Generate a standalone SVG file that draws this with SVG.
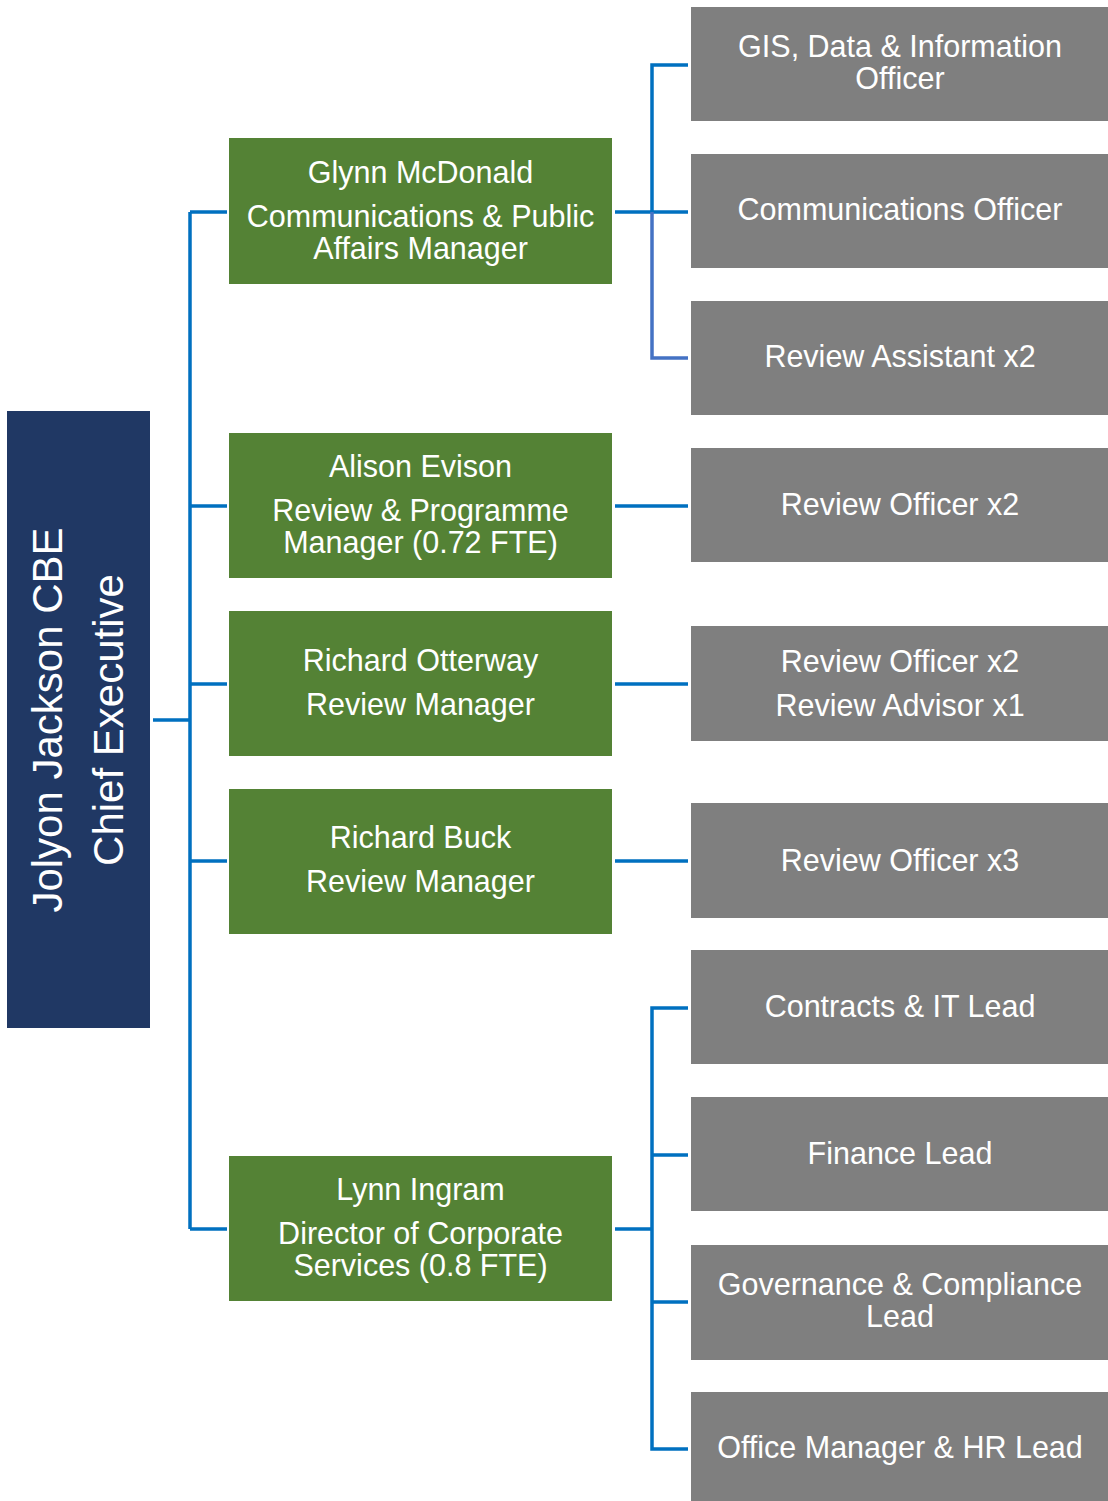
<svg xmlns="http://www.w3.org/2000/svg" width="1108" height="1501" viewBox="0 0 1108 1501">
  <style>
    .ceo { fill: #203864; }
    .mgr { fill: #548235; }
    .role { fill: #7f7f7f; }
    .lbl { font-family: "Liberation Sans", Arial, sans-serif; font-size: 30.5px; fill: #ffffff; text-anchor: middle; }
    .ceo-lbl { font-family: "Liberation Sans", Arial, sans-serif; font-size: 42px; fill: #ffffff; text-anchor: middle; }
    .wire { fill: none; stroke: #0070c0; stroke-width: 3.5; }
    .wire-alt { fill: none; stroke: #4472c4; stroke-width: 3.5; }
  </style>
  <rect width="1108" height="1501" fill="#ffffff"/>

  <!-- connectors -->
  <g id="connectors">
    <!-- chief executive trunk -->
    <path class="wire" d="M153 720 H190 M190 212 V1229 M190 212 H227 M190 506 H227 M190 684 H227 M190 861 H227 M190 1229 H227"/>
    <!-- communications team bracket -->
    <path class="wire" d="M615 212 H688 M688 65 H652 V212"/>
    <path class="wire-alt" d="M652 212 V358 H688"/>
    <!-- single reports -->
    <path class="wire" d="M615 506 H688 M615 684 H688 M615 861 H688"/>
    <!-- corporate services bracket -->
    <path class="wire" d="M615 1229 H652 M688 1008 H652 V1449 H688 M652 1155 H688 M652 1302 H688"/>
  </g>

  <!-- chief executive -->
  <g id="ceo">
    <rect class="ceo" x="7" y="411" width="143" height="617"/>
    <text class="ceo-lbl" transform="translate(47,720) rotate(-90)" y="15">Jolyon Jackson CBE</text>
    <text class="ceo-lbl" transform="translate(108,720) rotate(-90)" y="15">Chief Executive</text>
  </g>

  <!-- managers -->
  <g id="glynn-mcdonald">
    <rect class="mgr" x="229" y="138" width="383" height="146"/>
    <text class="lbl" x="420.5" y="183">Glynn McDonald</text>
    <text class="lbl" x="420.5" y="227">Communications &amp; Public</text>
    <text class="lbl" x="420.5" y="259">Affairs Manager</text>
  </g>
  <g id="alison-evison">
    <rect class="mgr" x="229" y="433" width="383" height="145"/>
    <text class="lbl" x="420.5" y="477">Alison Evison</text>
    <text class="lbl" x="420.5" y="521">Review &amp; Programme</text>
    <text class="lbl" x="420.5" y="553">Manager (0.72 FTE)</text>
  </g>
  <g id="richard-otterway">
    <rect class="mgr" x="229" y="611" width="383" height="145"/>
    <text class="lbl" x="420.5" y="671">Richard Otterway</text>
    <text class="lbl" x="420.5" y="715">Review Manager</text>
  </g>
  <g id="richard-buck">
    <rect class="mgr" x="229" y="789" width="383" height="145"/>
    <text class="lbl" x="420.5" y="848">Richard Buck</text>
    <text class="lbl" x="420.5" y="892">Review Manager</text>
  </g>
  <g id="lynn-ingram">
    <rect class="mgr" x="229" y="1156" width="383" height="145"/>
    <text class="lbl" x="420.5" y="1200">Lynn Ingram</text>
    <text class="lbl" x="420.5" y="1244">Director of Corporate</text>
    <text class="lbl" x="420.5" y="1276">Services (0.8 FTE)</text>
  </g>

  <!-- team roles -->
  <g id="gis-officer">
    <rect class="role" x="691" y="7" width="417" height="114"/>
    <text class="lbl" x="900" y="57">GIS, Data &amp; Information</text>
    <text class="lbl" x="900" y="89">Officer</text>
  </g>
  <g id="communications-officer">
    <rect class="role" x="691" y="154" width="417" height="114"/>
    <text class="lbl" x="900" y="220">Communications Officer</text>
  </g>
  <g id="review-assistant">
    <rect class="role" x="691" y="301" width="417" height="114"/>
    <text class="lbl" x="900" y="367">Review Assistant x2</text>
  </g>
  <g id="review-officer-a">
    <rect class="role" x="691" y="448" width="417" height="114"/>
    <text class="lbl" x="900" y="515">Review Officer x2</text>
  </g>
  <g id="review-officer-b">
    <rect class="role" x="691" y="626" width="417" height="115"/>
    <text class="lbl" x="900" y="672">Review Officer x2</text>
    <text class="lbl" x="900" y="716">Review Advisor x1</text>
  </g>
  <g id="review-officer-c">
    <rect class="role" x="691" y="803" width="417" height="115"/>
    <text class="lbl" x="900" y="871">Review Officer x3</text>
  </g>
  <g id="contracts-it">
    <rect class="role" x="691" y="950" width="417" height="114"/>
    <text class="lbl" x="900" y="1017">Contracts &amp; IT Lead</text>
  </g>
  <g id="finance">
    <rect class="role" x="691" y="1097" width="417" height="114"/>
    <text class="lbl" x="900" y="1164">Finance Lead</text>
  </g>
  <g id="governance">
    <rect class="role" x="691" y="1245" width="417" height="115"/>
    <text class="lbl" x="900" y="1295">Governance &amp; Compliance</text>
    <text class="lbl" x="900" y="1327">Lead</text>
  </g>
  <g id="office-hr">
    <rect class="role" x="691" y="1392" width="417" height="109"/>
    <text class="lbl" x="900" y="1458">Office Manager &amp; HR Lead</text>
  </g>
</svg>
